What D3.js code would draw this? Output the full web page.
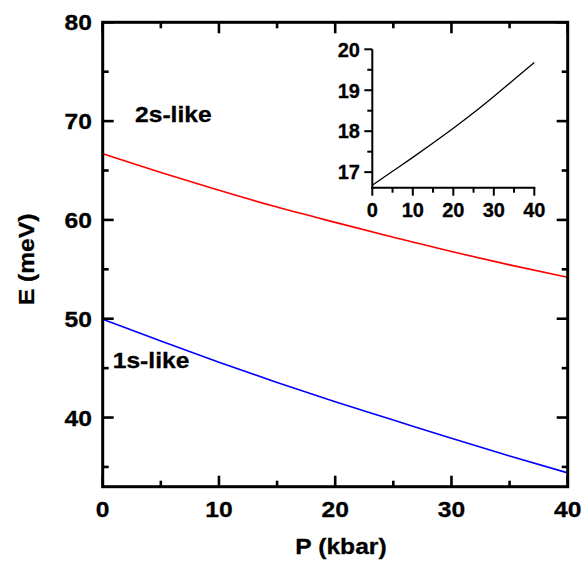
<!DOCTYPE html>
<html>
<head>
<meta charset="utf-8">
<script src="https://cdn.jsdelivr.net/npm/d3@7"></script>
<style>
  html, body { margin: 0; padding: 0; background: #fff; }
  svg { display: block; }
  text { font-family: "Liberation Sans", Arial, Helvetica, sans-serif; font-weight: bold; fill: #000; stroke: #000; stroke-width: 0.3px; }
</style>
</head>
<body>
<svg id="chart" width="583" height="566"></svg>
<script>
// Pressure (kbar) sample points
const pressure = [0, 5, 10, 15, 20, 25, 30, 35, 40];
// Transition energies (meV)
const energy2s = [66.7, 64.8, 63.0, 61.3, 59.75, 58.25, 56.8, 55.45, 54.2];
const energy1s = [49.95, 47.75, 45.6, 43.55, 41.6, 39.75, 37.9, 36.1, 34.4];
// Inset: 2s-1s splitting (meV)
const splitting = [16.68, 17.02, 17.36, 17.71, 18.07, 18.45, 18.85, 19.26, 19.68];

const mainXTicks = [0, 10, 20, 30, 40];
const mainYTicks = [40, 50, 60, 70, 80];
const insetXTicks = [0, 10, 20, 30, 40];
const insetYTicks = [17, 18, 19, 20];

const svg = d3.select("#chart");
const WIDE = 1.12;   // main-panel lettering is set slightly extended

// text placed at (px, py), extended horizontally about its anchor
function label(sel, px, py, str, size, anchor) {
  return sel.append("text")
    .attr("transform", `translate(${px},${py}) scale(${WIDE},1)`)
    .attr("text-anchor", anchor || "start")
    .style("font-size", size + "px")
    .text(str);
}

// ---------- main panel ----------
const M = { left: 102.7, right: 567.7, top: 22.3, bottom: 486.7 };
const x = d3.scaleLinear().domain([0, 40]).range([M.left, M.right]);
const y = d3.scaleLinear().domain([33, 80]).range([M.bottom, M.top]);

const line = (ys, xs, ysc) => d3.line()
  .x((d, i) => xs(pressure[i]))
  .y(d => ysc(d))
  .curve(d3.curveMonotoneX)(ys);

svg.append("path").attr("d", line(energy2s, x, y))
  .attr("fill", "none").attr("stroke", "#ff0000").attr("stroke-width", 1.6);
svg.append("path").attr("d", line(energy1s, x, y))
  .attr("fill", "none").attr("stroke", "#0000ff").attr("stroke-width", 1.6);

// inward ticks on all four sides
const xMajor = d3.range(0, 41, 10), xMinor = d3.range(5, 40, 10);
const yMajor = d3.range(40, 81, 10), yMinor = d3.range(35, 80, 10);
const tickG = svg.append("g").attr("stroke", "#000").attr("stroke-width", 2.6);
xMajor.concat(xMinor).forEach(v => {
  const L = xMajor.includes(v) ? 11 : 6;
  tickG.append("line").attr("x1", x(v)).attr("x2", x(v)).attr("y1", M.bottom).attr("y2", M.bottom - L);
  tickG.append("line").attr("x1", x(v)).attr("x2", x(v)).attr("y1", M.top).attr("y2", M.top + L);
});
yMajor.concat(yMinor).forEach(v => {
  const L = yMajor.includes(v) ? 11 : 6;
  tickG.append("line").attr("y1", y(v)).attr("y2", y(v)).attr("x1", M.left).attr("x2", M.left + L);
  tickG.append("line").attr("y1", y(v)).attr("y2", y(v)).attr("x1", M.right).attr("x2", M.right - L);
});

svg.append("rect")
  .attr("x", M.left).attr("y", M.top)
  .attr("width", M.right - M.left).attr("height", M.bottom - M.top)
  .attr("fill", "none").attr("stroke", "#000").attr("stroke-width", 3);

const mt = svg.append("g");
mainXTicks.forEach(d => label(mt, x(d), 517, d, 22, "middle"));
mainYTicks.forEach(d => label(mt, 92, y(d) + 8, d, 22, "end"));

label(svg, 341, 554, "P (kbar)", 22, "middle");
svg.append("text")
  .attr("transform", `translate(33.5,259.5) rotate(-90) scale(${WIDE},1)`)
  .attr("text-anchor", "middle").style("font-size", "22px").text("E (meV)");

label(svg, 135, 121.7, "2s-like", 22);
label(svg, 112.7, 368.3, "1s-like", 22);

// ---------- inset ----------
const I = { left: 372.3, right: 534.3, top: 49.3, bottom: 187.7 };
const ix = d3.scaleLinear().domain([0, 40]).range([I.left, I.right]);
const iy = d3.scaleLinear().domain([16.62, 20]).range([I.bottom, I.top]);

svg.append("path").attr("d", line(splitting, ix, iy))
  .attr("fill", "none").attr("stroke", "#000").attr("stroke-width", 1.3);

const ig = svg.append("g").attr("stroke", "#000").attr("stroke-width", 2);
d3.range(0, 41, 5).forEach(v => {
  const L = v % 10 === 0 ? 8 : 5;
  ig.append("line").attr("x1", ix(v)).attr("x2", ix(v)).attr("y1", I.bottom).attr("y2", I.bottom + L);
});
[17, 17.5, 18, 18.5, 19, 19.5, 20].forEach(v => {
  const L = Number.isInteger(v) ? 8 : 5;
  ig.append("line").attr("y1", iy(v)).attr("y2", iy(v)).attr("x1", I.left).attr("x2", I.left - L);
});
ig.append("line").attr("x1", I.left).attr("x2", I.left).attr("y1", iy(20)).attr("y2", I.bottom + 1);
ig.append("line").attr("x1", I.left - 1).attr("x2", I.right + 1).attr("y1", I.bottom).attr("y2", I.bottom);

svg.append("g").selectAll("text").data(insetXTicks).join("text")
  .attr("x", d => ix(d)).attr("y", 216.7)
  .attr("text-anchor", "middle").style("font-size", "20px")
  .text(d => d);
svg.append("g").selectAll("text").data(insetYTicks).join("text")
  .attr("x", 360).attr("y", d => iy(d) + 7.3)
  .attr("text-anchor", "end").style("font-size", "20px")
  .text(d => d);
</script>
</body>
</html>
